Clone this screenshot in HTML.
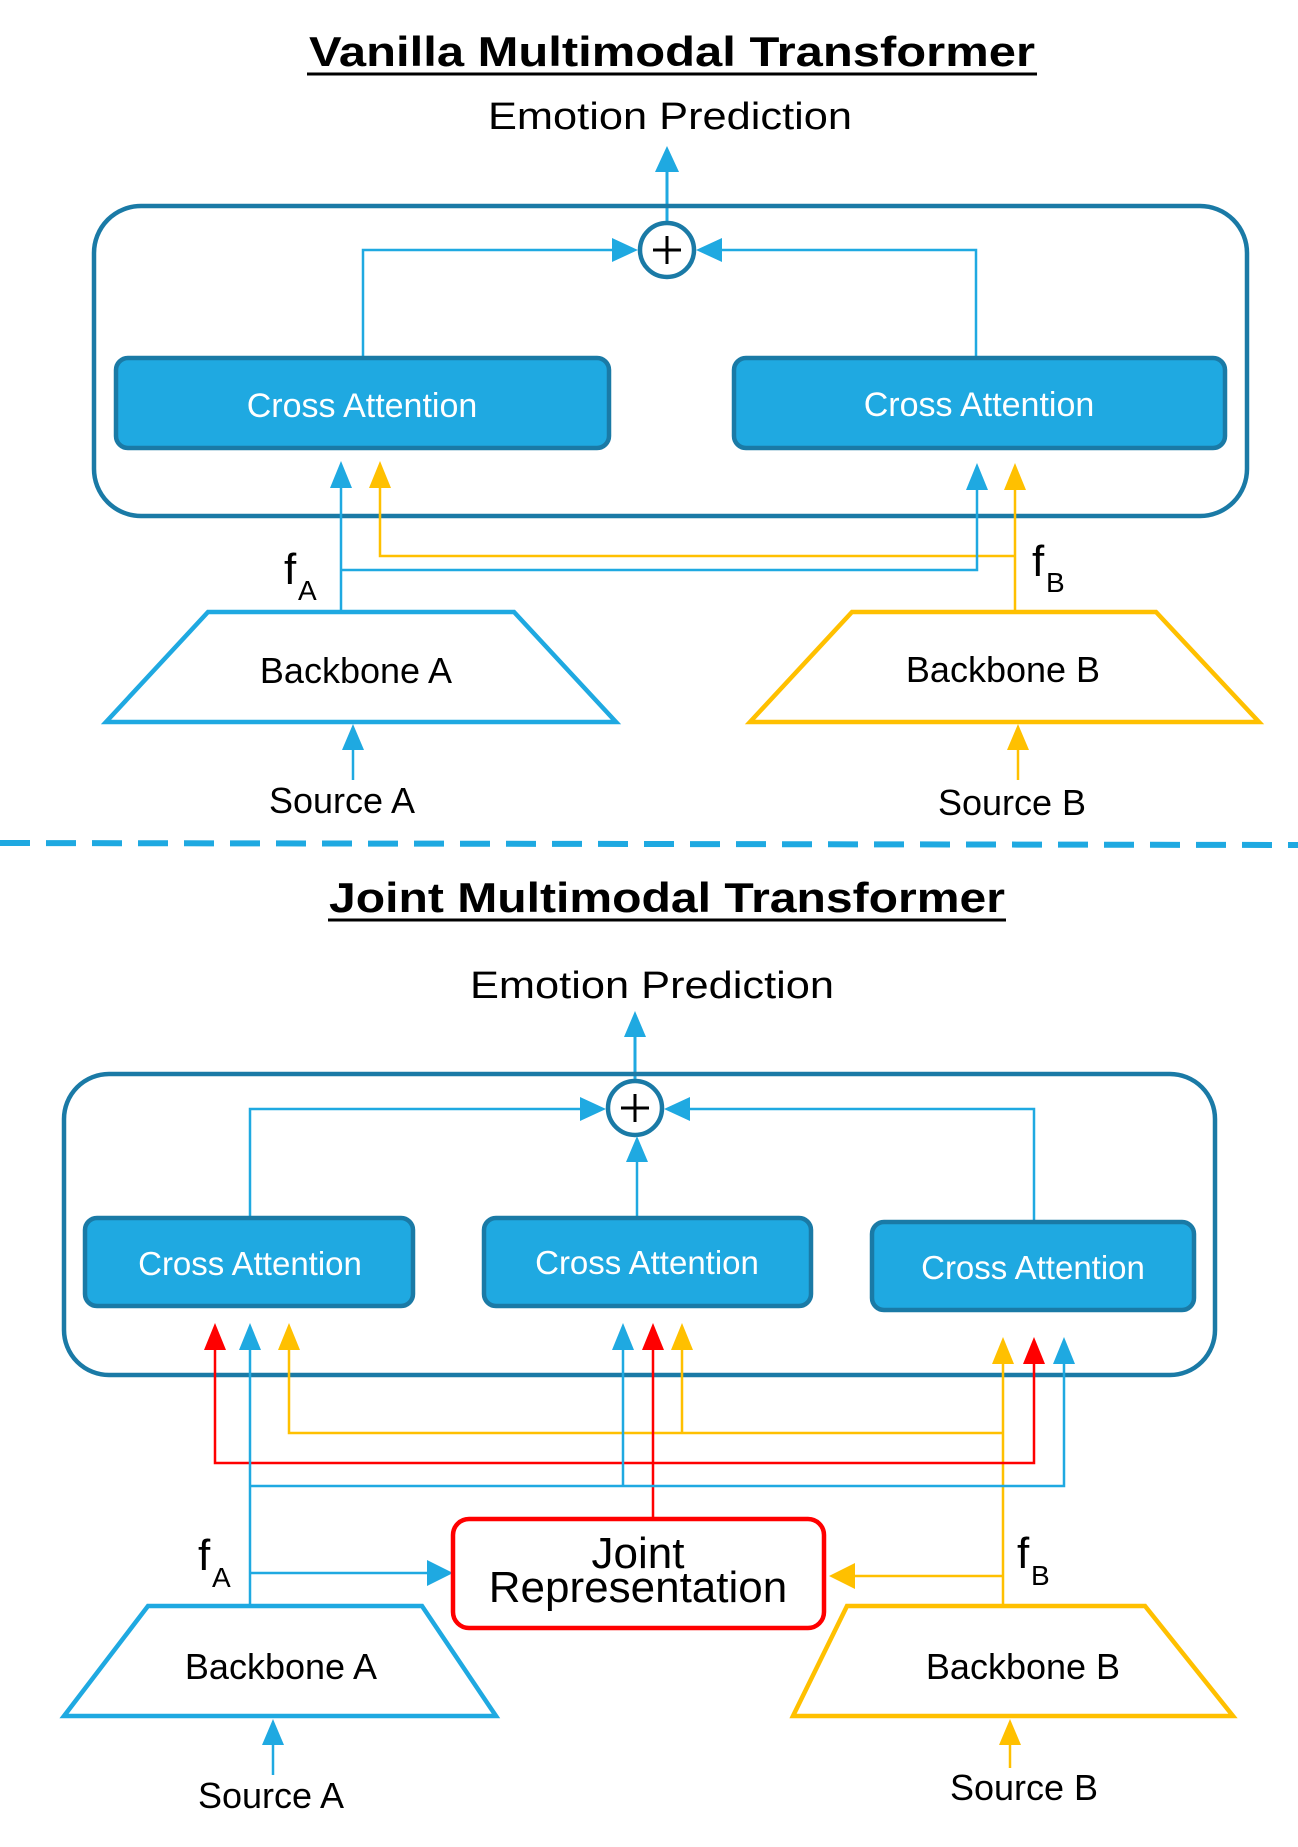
<!DOCTYPE html>
<html><head><meta charset="utf-8"><style>
html,body{margin:0;padding:0;background:#fff}
svg{display:block}
text{font-family:"Liberation Sans",sans-serif}
</style></head><body>
<svg width="1298" height="1847" viewBox="0 0 1298 1847" xmlns="http://www.w3.org/2000/svg">
<defs>
<marker id="ab" viewBox="0 0 10 10" refX="9" refY="5" markerWidth="10" markerHeight="10" markerUnits="userSpaceOnUse" orient="auto"><path d="M0,0L10,5L0,10z" fill="#1fa9e1"/></marker>
</defs>
<g fill="none" stroke-linejoin="miter">
<!-- ===== TOP ===== -->
<text x="672" y="66" font-size="42" font-weight="bold" text-anchor="middle" fill="#000" stroke="none" textLength="726" lengthAdjust="spacingAndGlyphs">Vanilla Multimodal Transformer</text>
<line x1="307" y1="74" x2="1037" y2="74" stroke="#000" stroke-width="3"/>
<text x="670" y="129" font-size="38" text-anchor="middle" fill="#000" stroke="none" textLength="364" lengthAdjust="spacingAndGlyphs">Emotion Prediction</text>
<line x1="667" y1="222" x2="667" y2="165" stroke="#1fa9e1" stroke-width="3"/>
<path d="M655,172L667,146L679,172z" fill="#1fa9e1"/>
<rect x="94" y="206" width="1153" height="310" rx="47" stroke="#1a7aa6" stroke-width="4.5"/>
<circle cx="667" cy="250" r="27" stroke="#1a7aa6" stroke-width="4.5" fill="#fff"/>
<path d="M653,250h28M667,236v28" stroke="#000" stroke-width="3"/>
<path d="M363,358V250H615" stroke="#1fa9e1" stroke-width="2.5"/>
<path d="M612,238L638,250L612,262z" fill="#1fa9e1"/>
<path d="M976,356V250H720" stroke="#1fa9e1" stroke-width="2.5"/>
<path d="M722,238L696,250L722,262z" fill="#1fa9e1"/>
<rect x="116" y="358" width="493" height="90" rx="12" fill="#1fa9e1" stroke="#1a7aa6" stroke-width="4.5"/>
<rect x="734" y="358" width="491" height="90" rx="12" fill="#1fa9e1" stroke="#1a7aa6" stroke-width="4.5"/>
<text x="362" y="417" font-size="34" fill="#fff" stroke="none" text-anchor="middle">Cross Attention</text>
<text x="979" y="416" font-size="34" fill="#fff" stroke="none" text-anchor="middle">Cross Attention</text>
<!-- connectors top -->
<path d="M1015,611V482M1015,556H380V482" stroke="#ffc000" stroke-width="2.5"/>
<path d="M341,611V482M341,570H977V482" stroke="#1fa9e1" stroke-width="2.5"/>
<path d="M330,488L341,461L352,488z" fill="#1fa9e1"/>
<path d="M369,488L380,461L391,488z" fill="#ffc000"/>
<path d="M966,490L977,463L988,490z" fill="#1fa9e1"/>
<path d="M1004,490L1015,463L1026,490z" fill="#ffc000"/>
<text x="284" y="584" font-size="44" fill="#000" stroke="none">f</text>
<text x="298" y="600" font-size="28" fill="#000" stroke="none">A</text>
<text x="1032" y="576" font-size="44" fill="#000" stroke="none">f</text>
<text x="1046" y="592" font-size="28" fill="#000" stroke="none">B</text>
<path d="M208,612H514L616,722H106z" stroke="#1fa9e1" stroke-width="4.5" fill="#fff"/>
<path d="M852,612H1156L1259,722H750z" stroke="#ffc000" stroke-width="4.5" fill="#fff"/>
<path d="M341,611V612" stroke="#1fa9e1"/>
<text x="356" y="683" font-size="36" text-anchor="middle" fill="#000" stroke="none">Backbone A</text>
<text x="1003" y="682" font-size="36" text-anchor="middle" fill="#000" stroke="none">Backbone B</text>
<line x1="353" y1="780" x2="353" y2="740" stroke="#1fa9e1" stroke-width="2.5"/>
<path d="M342,750L353,724L364,750z" fill="#1fa9e1"/>
<line x1="1018" y1="780" x2="1018" y2="740" stroke="#ffc000" stroke-width="2.5"/>
<path d="M1007,750L1018,724L1029,750z" fill="#ffc000"/>
<text x="342" y="813" font-size="36" text-anchor="middle" fill="#000" stroke="none">Source A</text>
<text x="1012" y="815" font-size="36" text-anchor="middle" fill="#000" stroke="none">Source B</text>
<line x1="0" y1="843" x2="1298" y2="845" stroke="#1fa9e1" stroke-width="6" stroke-dasharray="30,16"/>
<!-- ===== BOTTOM ===== -->
<text x="667" y="912" font-size="42" font-weight="bold" text-anchor="middle" fill="#000" stroke="none" textLength="676" lengthAdjust="spacingAndGlyphs">Joint Multimodal Transformer</text>
<line x1="328" y1="920" x2="1006" y2="920" stroke="#000" stroke-width="3"/>
<text x="652" y="998" font-size="38" text-anchor="middle" fill="#000" stroke="none" textLength="364" lengthAdjust="spacingAndGlyphs">Emotion Prediction</text>
<line x1="635" y1="1080" x2="635" y2="1030" stroke="#1fa9e1" stroke-width="3"/>
<path d="M624,1037L635,1011L646,1037z" fill="#1fa9e1"/>
<rect x="64" y="1074" width="1151" height="301" rx="45" stroke="#1a7aa6" stroke-width="4.5"/>
<circle cx="635" cy="1108" r="27" stroke="#1a7aa6" stroke-width="4.5" fill="#fff"/>
<path d="M621,1108h28M635,1094v28" stroke="#000" stroke-width="3"/>
<path d="M250,1218V1109H585" stroke="#1fa9e1" stroke-width="2.5"/>
<path d="M580,1097L606,1109L580,1121z" fill="#1fa9e1"/>
<path d="M1034,1222V1109H686" stroke="#1fa9e1" stroke-width="2.5"/>
<path d="M690,1097L664,1109L690,1121z" fill="#1fa9e1"/>
<path d="M637,1218V1155" stroke="#1fa9e1" stroke-width="2.5"/>
<path d="M626,1162L637,1136L648,1162z" fill="#1fa9e1"/>
<rect x="85" y="1218" width="328" height="88" rx="12" fill="#1fa9e1" stroke="#1a7aa6" stroke-width="4.5"/>
<rect x="484" y="1218" width="327" height="88" rx="12" fill="#1fa9e1" stroke="#1a7aa6" stroke-width="4.5"/>
<rect x="872" y="1222" width="322" height="88" rx="12" fill="#1fa9e1" stroke="#1a7aa6" stroke-width="4.5"/>
<text x="250" y="1275" font-size="33" fill="#fff" stroke="none" text-anchor="middle">Cross Attention</text>
<text x="647" y="1274" font-size="33" fill="#fff" stroke="none" text-anchor="middle">Cross Attention</text>
<text x="1033" y="1279" font-size="33" fill="#fff" stroke="none" text-anchor="middle">Cross Attention</text>
<!-- connectors bottom -->
<path d="M289,1345V1433H1003M682,1345V1433M1003,1360V1606M1003,1576H845" stroke="#ffc000" stroke-width="2.5"/>
<path d="M215,1345V1463H1034V1360M653,1345V1519" stroke="#ff0000" stroke-width="2.5"/>
<path d="M250,1345V1606M250,1486H1064V1360M623,1345V1486M250,1573H437" stroke="#1fa9e1" stroke-width="2.5"/>
<path d="M204,1350L215,1323L226,1350z" fill="#ff0000"/>
<path d="M239,1350L250,1323L261,1350z" fill="#1fa9e1"/>
<path d="M278,1350L289,1323L300,1350z" fill="#ffc000"/>
<path d="M612,1350L623,1323L634,1350z" fill="#1fa9e1"/>
<path d="M642,1350L653,1323L664,1350z" fill="#ff0000"/>
<path d="M671,1350L682,1323L693,1350z" fill="#ffc000"/>
<path d="M992,1364L1003,1337L1014,1364z" fill="#ffc000"/>
<path d="M1023,1364L1034,1337L1045,1364z" fill="#ff0000"/>
<path d="M1053,1364L1064,1337L1075,1364z" fill="#1fa9e1"/>
<path d="M427,1560L453,1573L427,1586z" fill="#1fa9e1"/>
<path d="M855,1563L829,1576L855,1589z" fill="#ffc000"/>
<rect x="453" y="1519" width="371" height="109" rx="16" stroke="#ff0000" stroke-width="4.5" fill="#fff"/>
<text x="638" y="1568" font-size="44" text-anchor="middle" fill="#000" stroke="none">Joint</text>
<text x="638" y="1602" font-size="44" text-anchor="middle" fill="#000" stroke="none">Representation</text>
<text x="198" y="1570" font-size="44" fill="#000" stroke="none">f</text>
<text x="212" y="1587" font-size="28" fill="#000" stroke="none">A</text>
<text x="1017" y="1568" font-size="44" fill="#000" stroke="none">f</text>
<text x="1031" y="1585" font-size="28" fill="#000" stroke="none">B</text>
<path d="M148,1606H422L496,1716H64z" stroke="#1fa9e1" stroke-width="4.5" fill="#fff"/>
<path d="M847,1606H1145L1233,1716H793z" stroke="#ffc000" stroke-width="4.5" fill="#fff"/>
<text x="281" y="1679" font-size="36" text-anchor="middle" fill="#000" stroke="none">Backbone A</text>
<text x="1023" y="1679" font-size="36" text-anchor="middle" fill="#000" stroke="none">Backbone B</text>
<line x1="273" y1="1775" x2="273" y2="1738" stroke="#1fa9e1" stroke-width="2.5"/>
<path d="M262,1745L273,1719L284,1745z" fill="#1fa9e1"/>
<line x1="1010" y1="1768" x2="1010" y2="1738" stroke="#ffc000" stroke-width="2.5"/>
<path d="M999,1745L1010,1719L1021,1745z" fill="#ffc000"/>
<text x="271" y="1808" font-size="36" text-anchor="middle" fill="#000" stroke="none">Source A</text>
<text x="1024" y="1800" font-size="36" text-anchor="middle" fill="#000" stroke="none">Source B</text>
</g>
</svg>
</body></html>
